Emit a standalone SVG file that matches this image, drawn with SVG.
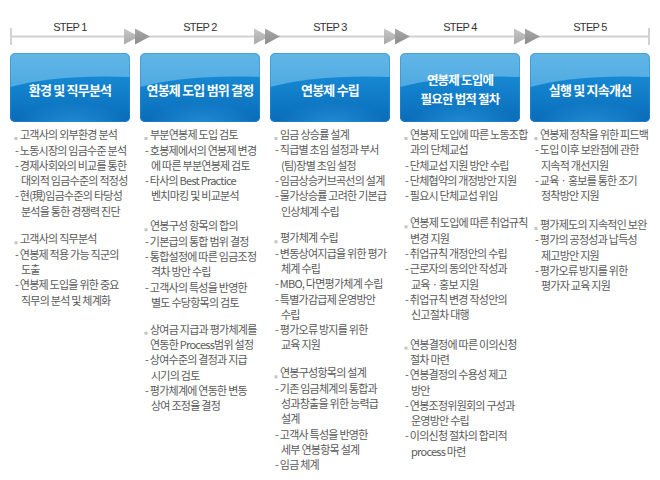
<svg xmlns="http://www.w3.org/2000/svg" xmlns:xlink="http://www.w3.org/1999/xlink" width="660" height="480" viewBox="0 0 660 480">
<style>
.step{font-family:"Liberation Sans",Arial,sans-serif;font-size:11px;fill:#333;letter-spacing:-0.7px;text-anchor:middle}
.title{font-family:"Noto Sans CJK KR","Noto Sans",sans-serif;font-size:13px;font-weight:bold;fill:#fff;text-anchor:middle;letter-spacing:-0.8px}
.t2{font-size:12.5px}
.body{font-family:"Noto Sans CJK KR","Noto Sans",sans-serif;font-size:11px;fill:#595959;letter-spacing:-0.75px}
.dot{fill:#c4c4c4}
.tl{stroke:#d2d2d2;stroke-width:2;fill:none}
</style>
<defs>
<linearGradient id="gTop" x1="0" y1="0" x2="0" y2="1">
<stop offset="0" stop-color="#62b6e6"/>
<stop offset="1" stop-color="#3c9edc"/>
</linearGradient>
<linearGradient id="gBot" x1="0" y1="0" x2="0" y2="1">
<stop offset="0" stop-color="#1688d3"/>
<stop offset="1" stop-color="#0a6cb8"/>
</linearGradient>
<radialGradient id="gGlow" cx="0.5" cy="0.75" r="0.5">
<stop offset="0" stop-color="#2a9ae0" stop-opacity="0.7"/>
<stop offset="1" stop-color="#2a9ae0" stop-opacity="0"/>
</radialGradient>
<linearGradient id="gArr1" x1="0" y1="0" x2="0" y2="1">
<stop offset="0" stop-color="#c8c8c8"/>
<stop offset="1" stop-color="#a8a8a8"/>
</linearGradient>
<linearGradient id="gArr2" x1="0" y1="0" x2="0" y2="1">
<stop offset="0" stop-color="#aaaaaa"/>
<stop offset="1" stop-color="#8c8c8c"/>
</linearGradient>
<clipPath id="boxClip">
<rect x="0" y="0" width="120" height="69" rx="5"/>
</clipPath>
<g id="boxShape">
<rect x="0" y="0" width="120" height="69" rx="5" fill="url(#gTop)"/>
<g clip-path="url(#boxClip)">
<path d="M0,34 C30,26 70,22 120,24 L120,69 L0,69 Z" fill="url(#gBot)"/>
<ellipse cx="62" cy="60" rx="55" ry="22" fill="url(#gGlow)"/>
</g>
<rect x="0.5" y="0.5" width="119" height="68" rx="5" fill="none" stroke="#2f8ccc" stroke-opacity="0.5"/>
</g>
<g id="arrowPair">
<polygon points="0,0 15,8 0,16" fill="url(#gArr1)"/>
<polygon points="11,0 26,8 11,16" fill="url(#gArr2)"/>
</g>
</defs>
<rect width="660" height="480" fill="#fff"/>

<g id="connectors">
<line class="tl" x1="11" y1="36.5" x2="649" y2="36.5"/>
<line class="tl" x1="11" y1="28" x2="11" y2="45"/>
<line class="tl" x1="649" y1="28" x2="649" y2="45"/>
<use xlink:href="#arrowPair" x="124" y="28.5"/>
<use xlink:href="#arrowPair" x="254" y="28.5"/>
<use xlink:href="#arrowPair" x="384" y="28.5"/>
<use xlink:href="#arrowPair" x="514" y="28.5"/>
</g>

<g id="step1">
<text class="step" x="70" y="31">STEP 1</text>
<use xlink:href="#boxShape" x="10" y="53"/>
<text class="title" x="70" y="94.5">환경 및 직무분석</text>
<rect class="dot" x="14.5" y="137" width="3" height="3"/>
<rect class="dot" x="14.5" y="241.3" width="3" height="3"/>
<text class="body">
<tspan x="20" y="139">고객사의 외부환경 분석</tspan>
<tspan x="15" y="154.5">- 노동시장의 임금수준 분석</tspan>
<tspan x="15" y="169.8">- 경제사회와의 비교를 통한</tspan>
<tspan x="21" y="185.1">대외적 임금수준의 적정성</tspan>
<tspan x="15" y="200.4">- 현(現)임금수준의 타당성</tspan>
<tspan x="21" y="215.7">분석을 통한 경쟁력 진단</tspan>
<tspan x="20" y="243.3">고객사의 직무분석</tspan>
<tspan x="15" y="258.6">- 연봉제 적용 가능 직군의</tspan>
<tspan x="21" y="273.9">도출</tspan>
<tspan x="15" y="289.2">- 연봉제 도입을 위한 중요</tspan>
<tspan x="21" y="304.5">직무의 분석 및 체계화</tspan>
</text>
</g>

<g id="step2">
<text class="step" x="200" y="31">STEP 2</text>
<use xlink:href="#boxShape" x="140" y="53"/>
<text class="title" x="200" y="94.5">연봉제 도입 범위 결정</text>
<rect class="dot" x="144.5" y="137" width="3" height="3"/>
<rect class="dot" x="144.5" y="228.3" width="3" height="3"/>
<rect class="dot" x="144.5" y="331.7" width="3" height="3"/>
<text class="body">
<tspan x="150" y="139">부분연봉제 도입 검토</tspan>
<tspan x="145" y="154.5">- 호봉제에서의 연봉제 변경</tspan>
<tspan x="151" y="169.8">에 따른 부분연봉제 검토</tspan>
<tspan x="145" y="185.1">- 타사의 Best Practice</tspan>
<tspan x="151" y="200.4">벤치마킹 및 비교분석</tspan>
<tspan x="150" y="230.3">연봉구성 항목의 합의</tspan>
<tspan x="145" y="245.6">- 기본급의 통합 범위 결정</tspan>
<tspan x="145" y="260.9">- 통합설정에 따른 임금조정</tspan>
<tspan x="151" y="276.2">격차 방안 수립</tspan>
<tspan x="145" y="291.5">- 고객사의 특성을 반영한</tspan>
<tspan x="151" y="306.8">별도 수당항목의 검토</tspan>
<tspan x="150" y="333.7">상여금 지급과 평가체계를</tspan>
<tspan x="150" y="349">연동한 Process범위 설정</tspan>
<tspan x="145" y="364.3">- 상여수준의 결정과 지급</tspan>
<tspan x="151" y="379.6">시기의 검토</tspan>
<tspan x="145" y="394.9">- 평가체계에 연동한 변동</tspan>
<tspan x="151" y="410.2">상여 조정율 결정</tspan>
</text>
</g>

<g id="step3">
<text class="step" x="330" y="31">STEP 3</text>
<use xlink:href="#boxShape" x="270" y="53"/>
<text class="title" x="330" y="94.5">연봉제 수립</text>
<rect class="dot" x="274.5" y="137" width="3" height="3"/>
<rect class="dot" x="274.5" y="240.3" width="3" height="3"/>
<rect class="dot" x="274.5" y="375.3" width="3" height="3"/>
<text class="body">
<tspan x="280" y="139">임금 상승률 설계</tspan>
<tspan x="275" y="154.3">- 직급별 초임 설정과 부서</tspan>
<tspan x="281" y="169.6">(팀)장별 초임 설정</tspan>
<tspan x="275" y="184.9">- 임금상승커브곡선의 설계</tspan>
<tspan x="275" y="200.2">- 물가상승률 고려한 기본급</tspan>
<tspan x="281" y="215.5">인상체계 수립</tspan>
<tspan x="280" y="242.3">평가체계 수립</tspan>
<tspan x="275" y="257.6">- 변동상여지급을 위한 평가</tspan>
<tspan x="281" y="272.9">체계 수립</tspan>
<tspan x="275" y="288.2">- MBO, 다면평가체계 수립</tspan>
<tspan x="275" y="303.5">- 특별가감급제 운영방안</tspan>
<tspan x="281" y="318.8">수립</tspan>
<tspan x="275" y="334.1">- 평가오류 방지를 위한</tspan>
<tspan x="281" y="349.4">교육 지원</tspan>
<tspan x="280" y="377.3">연봉구성항목의 설계</tspan>
<tspan x="275" y="392.6">- 기존 임금체계의 통합과</tspan>
<tspan x="281" y="407.9">성과창출을 위한 능력급</tspan>
<tspan x="281" y="423.2">설계</tspan>
<tspan x="275" y="438.5">- 고객사 특성을 반영한</tspan>
<tspan x="281" y="453.8">세부 연봉항목 설계</tspan>
<tspan x="275" y="469.1">- 임금 체계</tspan>
</text>
</g>

<g id="step4">
<text class="step" x="460" y="31">STEP 4</text>
<use xlink:href="#boxShape" x="400" y="53"/>
<text class="title t2" x="460" y="84.5">연봉제 도입에</text>
<text class="title t2" x="460" y="103.5">필요한 법적 절차</text>
<rect class="dot" x="404.5" y="137" width="3" height="3"/>
<rect class="dot" x="404.5" y="225.3" width="3" height="3"/>
<rect class="dot" x="404.5" y="346.6" width="3" height="3"/>
<text class="body">
<tspan x="410" y="139">연봉제 도입에 따른 노동조합</tspan>
<tspan x="410" y="154.3">과의 단체교섭</tspan>
<tspan x="405" y="169.6">- 단체교섭 지원 방안 수립</tspan>
<tspan x="405" y="184.9">- 단체협약의 개정방안 지원</tspan>
<tspan x="405" y="200.2">- 필요시 단체교섭 위임</tspan>
<tspan x="410" y="227.3">연봉제 도입에 따른 취업규칙</tspan>
<tspan x="410" y="242.6">변경 지원</tspan>
<tspan x="405" y="257.9">- 취업규칙 개정안의 수립</tspan>
<tspan x="405" y="273.2">- 근로자의 동의안 작성과</tspan>
<tspan x="411" y="288.5">교육ㆍ홍보 지원</tspan>
<tspan x="405" y="303.8">- 취업규칙 변경 작성안의</tspan>
<tspan x="411" y="319.1">신고절차 대행</tspan>
<tspan x="410" y="348.6">연봉결정에 따른 이의신청</tspan>
<tspan x="410" y="363.9">절차 마련</tspan>
<tspan x="405" y="379.2">- 연봉결정의 수용성 제고</tspan>
<tspan x="411" y="394.5">방안</tspan>
<tspan x="405" y="409.8">- 연봉조정위원회의 구성과</tspan>
<tspan x="411" y="425.1">운영방안 수립</tspan>
<tspan x="405" y="440.4">- 이의신청 절차의 합리적</tspan>
<tspan x="411" y="455.7">process 마련</tspan>
</text>
</g>

<g id="step5">
<text class="step" x="590" y="31">STEP 5</text>
<use xlink:href="#boxShape" x="530" y="53"/>
<text class="title" x="590" y="94.5">실행 및 지속개선</text>
<rect class="dot" x="534.5" y="137" width="3" height="3"/>
<rect class="dot" x="534.5" y="227" width="3" height="3"/>
<text class="body">
<tspan x="540" y="139">연봉제 정착을 위한 피드백</tspan>
<tspan x="535" y="154.3">- 도입 이후 보완점에 관한</tspan>
<tspan x="541" y="169.6">지속적 개선지원</tspan>
<tspan x="535" y="184.9">- 교육ㆍ홍보를 통한 조기</tspan>
<tspan x="541" y="200.2">정착방안 지원</tspan>
<tspan x="540" y="229">평가제도의 지속적인 보완</tspan>
<tspan x="535" y="244.3">- 평가의 공정성과 납득성</tspan>
<tspan x="541" y="259.6">제고방안 지원</tspan>
<tspan x="535" y="274.9">- 평가오류 방지를 위한</tspan>
<tspan x="541" y="290.2">평가자 교육 지원</tspan>
</text>
</g>
</svg>
